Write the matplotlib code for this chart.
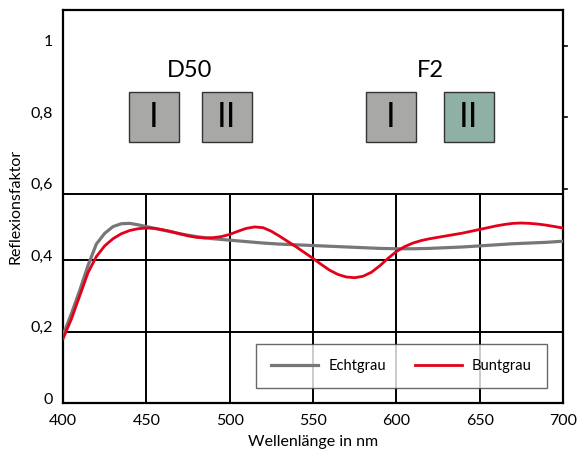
import matplotlib
matplotlib.use('Agg')

import matplotlib.pyplot as plt
import matplotlib.transforms as mtransforms
from matplotlib.patches import Rectangle

plt.rcParams['font.family'] = ['Lato', 'DejaVu Sans']

# Wellenlänge in nm
wl_grau = [400, 405, 410, 415, 420, 425, 430, 435, 440, 445, 450, 455, 460, 465,
           470, 475, 480, 485, 490, 495, 500, 510, 520, 530, 540, 550, 560, 570,
           580, 590, 600, 610, 620, 630, 640, 650, 660, 670, 680, 690, 700]
echtgrau = [0.19, 0.25, 0.315, 0.385, 0.445, 0.475, 0.494, 0.502, 0.503, 0.499,
            0.494, 0.489, 0.484, 0.479, 0.474, 0.470, 0.466, 0.463, 0.460, 0.458,
            0.456, 0.452, 0.448, 0.445, 0.443, 0.441, 0.439, 0.437, 0.435, 0.433,
            0.432, 0.432, 0.433, 0.435, 0.437, 0.440, 0.443, 0.446, 0.448, 0.450,
            0.453]

wl_bunt = [400, 405, 410, 415, 420, 425, 430, 435, 440, 445, 450, 455, 460, 465,
           470, 475, 480, 485, 490, 495, 500, 505, 510, 515, 520, 525, 530, 535,
           540, 545, 550, 555, 560, 565, 570, 575, 580, 585, 590, 595, 600, 605,
           610, 615, 620, 625, 630, 635, 640, 645, 650, 655, 660, 665, 670, 675,
           680, 685, 690, 695, 700]
buntgrau = [0.18, 0.235, 0.30, 0.365, 0.41, 0.44, 0.46, 0.474, 0.483, 0.488, 0.490,
            0.489, 0.485, 0.480, 0.474, 0.468, 0.464, 0.462, 0.463, 0.466, 0.472,
            0.481, 0.489, 0.493, 0.491, 0.481, 0.467, 0.452, 0.437, 0.421, 0.405,
            0.388, 0.372, 0.360, 0.353, 0.351, 0.355, 0.366, 0.384, 0.405, 0.424,
            0.438, 0.448, 0.455, 0.460, 0.464, 0.468, 0.472, 0.476, 0.481, 0.486,
            0.491, 0.496, 0.500, 0.503, 0.504, 0.503, 0.501, 0.498, 0.494, 0.490]

x_ticks = [400, 450, 500, 550, 600, 650, 700]
y_ticks = [0, 0.2, 0.4, 0.6, 0.8, 1.0]
y_labels = ['0', '0,2', '0,4', '0,6', '0,8', '1']

# Lichtarten mit Feldern (Beschriftung, Farbe)
lichtarten = ['D50', 'F2']
felder = [[('I', '#a8a8a6'), ('II', '#a8a8a6')],
          [('I', '#a8a8a6'), ('II', '#8fb0a5')]]

fig = plt.figure(figsize=(5.78, 4.53), dpi=100)
ax = fig.add_axes([0.109, 0.110, 0.865, 0.868])

ax.set_xlim(400, 700)
ax.set_ylim(0, 1.1)

# Gitter nur im unteren Bereich
sep = 0.586
for x in x_ticks[1:-1]:
    ax.plot([x, x], [0, sep], color='black', lw=1.4, zorder=1)
for y in [0.2, 0.4, sep]:
    ax.axhline(y, color='black', lw=1.4, zorder=1)

ax.plot(wl_grau, echtgrau, color='#777777', lw=2.3, label='Echtgrau', zorder=3)
ax.plot(wl_bunt, buntgrau, color='#e2001a', lw=2.0, label='Buntgrau', zorder=4)

# Felder oben
box_x = [[439.6, 483.4], [581.8, 628.6]]
title_x = [476.2, 620.2]
for i, name in enumerate(lichtarten):
    ax.text(title_x[i], 0.932, name, ha='center', va='center', fontsize=17)
    for j, (lab, col) in enumerate(felder[i]):
        x0 = box_x[i][j]
        ax.add_patch(Rectangle((x0, 0.730), 30, 0.140, facecolor=col,
                               edgecolor='#333333', lw=1.0, zorder=2))
        ax.text(x0 + 15, 0.800, lab, ha='center', va='center', fontsize=24,
                family=['DejaVu Sans'], zorder=3)

for s in ax.spines.values():
    s.set_linewidth(1.6)
    s.set_color('black')

ax.set_xticks(x_ticks)
ax.set_yticks(y_ticks)
ax.set_yticklabels(y_labels)
ax.tick_params(axis='x', length=0, pad=8, labelsize=11.5)
ax.tick_params(axis='y', length=0, pad=7, labelsize=11.5)

offset = mtransforms.ScaledTranslation(0, 5 / 100, fig.dpi_scale_trans)
for lab in ax.get_yticklabels():
    lab.set_transform(lab.get_transform() + offset)

# kleine Striche rechts
for y in [0.6, 0.8, 1.0]:
    ax.plot([1.0, 1.008], [y, y], transform=ax.get_yaxis_transform(),
            color='black', lw=1.2, clip_on=False)

ax.set_xlabel('Wellenlänge in nm', fontsize=11.5, labelpad=5)
ax.set_ylabel('Reflexionsfaktor', fontsize=11.5, labelpad=6)

leg = ax.legend(loc='lower left', bbox_to_anchor=(0.386, 0.038, 0.582, 0.114),
                mode='expand', ncol=2, fontsize=10.5, frameon=True, fancybox=False,
                edgecolor='#444444', handlelength=3.2, borderpad=1.05,
                columnspacing=2.0, handletextpad=0.7, borderaxespad=0)
leg.get_frame().set_linewidth(1.0)

fig.savefig('out.png', dpi=100)
